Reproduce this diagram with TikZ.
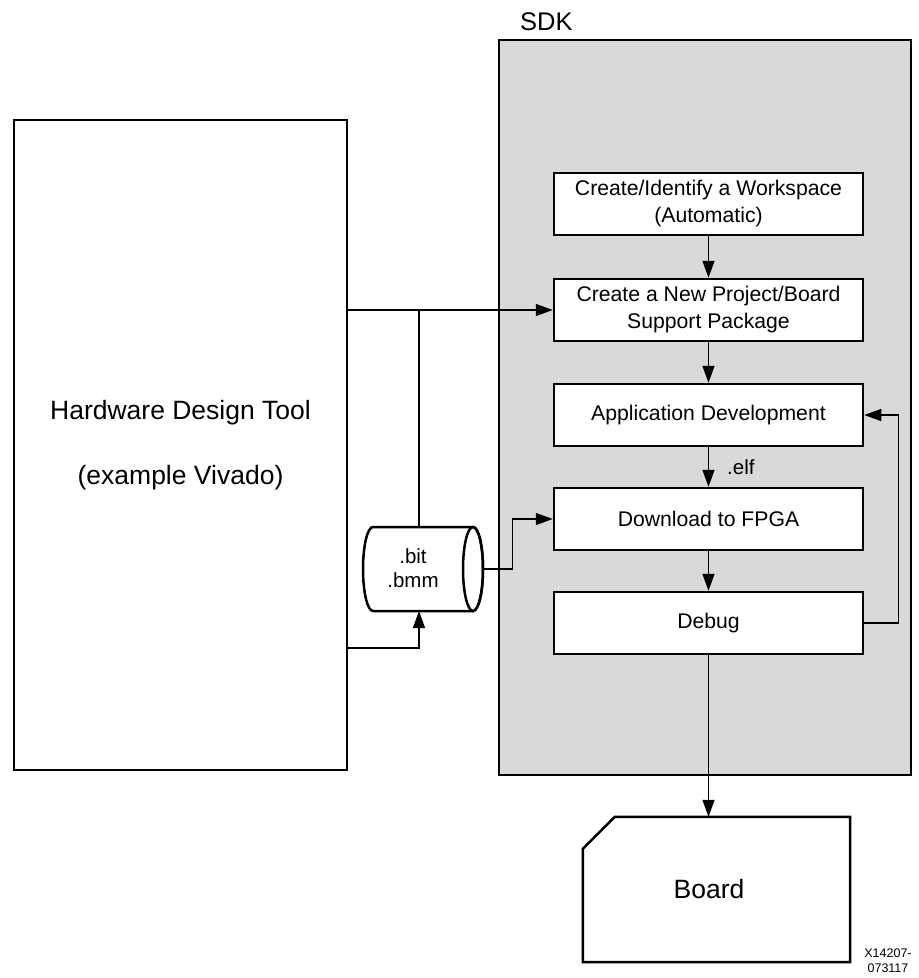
\documentclass[tikz,border=0pt]{standalone}
\usepackage{fontspec}
\setmainfont{Liberation Sans}
\usetikzlibrary{arrows.meta}
\definecolor{sdkgray}{HTML}{D9D9D9}
\begin{document}
\begin{tikzpicture}[x=1pt,y=-1pt,
  thick border/.style={draw,line width=2.5pt},
  box/.style={thick border,fill=white,minimum width=309pt,minimum height=62pt,align=center,inner sep=0pt,font=\fontsize{21.2}{27}\selectfont},
  conn/.style={line width=1.4pt},
  arr/.style={conn,-{Triangle[length=17pt,width=12pt]}}]
\useasboundingbox (0,0) rectangle (919,978);

% Hardware design tool
\node[thick border,minimum width=333pt,minimum height=650pt,inner sep=0pt,align=center,
      font=\fontsize{26.5}{30}\selectfont] (hw) at (180.5,445) {Hardware Design Tool\\[35pt](example Vivado)};

% SDK container
\node[thick border,fill=sdkgray,minimum width=412pt,minimum height=735pt,inner sep=0pt] (sdk) at (705,407.5) {};
\node[anchor=base west,inner sep=0pt,font=\fontsize{25.5}{28}\selectfont] (sdklbl) at (520,30) {SDK};

% Steps
\node[box] (b1) at (708.5,204) {Create/Identify a Workspace\\(Automatic)};
\node[box] (b2) at (708.5,310) {Create a New Project/Board\\Support Package};
\node[box] (b3) at (708.5,415) {Application Development};
\node[box] (b4) at (708.5,519) {Download to FPGA};
\node[box] (b5) at (708.5,623) {Debug};

% Cylinder (.bit .bmm)
\node[minimum width=120pt,minimum height=84pt,inner sep=0pt] (cyl) at (423,569) {};
\draw[line width=2.5pt,fill=white] (473,527) -- (373,527)
   arc[start angle=270,end angle=90,x radius=10,y radius=42] -- (473,611)
   arc[start angle=90,end angle=-90,x radius=10,y radius=42] -- cycle;
\draw[line width=2.5pt] (473,569) ellipse[x radius=10,y radius=42];
\node[align=center,inner sep=0pt,font=\fontsize{20.5}{24}\selectfont] (cyltxt) at (413,568) {.bit\\.bmm};
\coordinate (cyltop) at (419,527);
\coordinate (cylbot) at (419,611);

% Board
\node[minimum width=267pt,minimum height=145pt,inner sep=0pt] (board) at (716.5,889.5) {};
\draw[line width=2.5pt] ([xshift=32pt]board.north west) -- (board.north east) -- (board.south east)
   -- (board.south west) -- ([yshift=-32pt]board.north west) -- cycle;
\node[font=\fontsize{26.5}{30}\selectfont,inner sep=0pt] (boardlbl) at (709,889) {Board};

% Figure id
\node[align=center,inner sep=0pt,font=\fontsize{12.5}{15}\selectfont] (figid) at (888,961) {X14207-\\073117};

% Connectors
\draw[arr] (hw.east |- b2.west) -- (b2.west);
\draw[conn] (cyltop) -- (cyltop |- b2.west);
\draw[arr] ([yshift=-203pt]hw.east) -| (cylbot);
\draw[arr] (cyl.east) -- ++(29,0) |- (b4.west);
\draw[arr] (b1.south) -- (b2.north);
\draw[arr] (b2.south) -- (b3.north);
\draw[arr] (b3.south) -- node[anchor=west,inner sep=0pt,xshift=18pt,font=\fontsize{20.5}{24}\selectfont] (elf) {.elf} (b4.north);
\draw[arr] (b4.south) -- (b5.north);
\draw[arr] (b5.south) -- (b5.south |- board.north);
\draw[arr] (b5.east) -- ++(34,0) |- (b3.east);
\end{tikzpicture}
\end{document}
